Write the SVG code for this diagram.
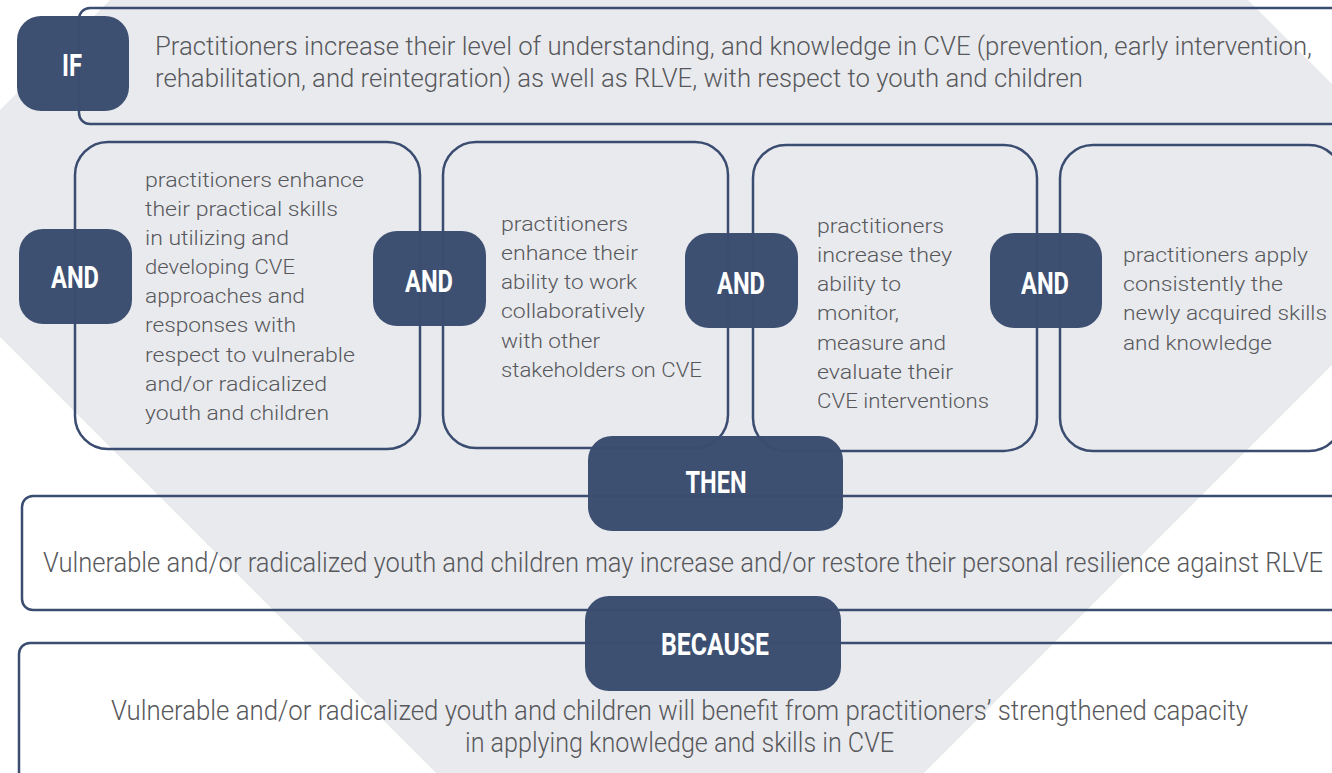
<svg xmlns="http://www.w3.org/2000/svg" width="1332" height="773" viewBox="0 0 1332 773">
  <style>
    .frame { fill: none; stroke: #3A4C70; stroke-width: 2.5; }
    .tag { fill: #3E5072; }
    .tagtxt { font-family: Roboto, "Liberation Sans", sans-serif; font-weight: 700; font-size: 31px; fill: #FFFFFF; text-anchor: middle; }
    .body { font-family: Roboto, "Open Sans", "Liberation Sans", sans-serif; font-weight: 300; fill: #57585B; }
    .small { font-size: 21px; }
    .mid { font-size: 26px; }
    .big { font-size: 27.5px; }
  </style>

  <!-- background lozenge -->
  <rect width="1332" height="773" fill="#FFFFFF"/>
  <polygon points="679,-569 1472.5,224.5 680,1017 -113.5,223.5" fill="#E9EAEE"/>

  <!-- label fills -->
  <g id="tags">
    <rect id="tag-if" class="tag" x="17" y="16" width="112" height="95" rx="24"/>
    <rect id="tag-and1" class="tag" x="19" y="229" width="113" height="95" rx="24"/>
    <rect id="tag-and2" class="tag" x="373" y="231" width="113" height="95" rx="24"/>
    <rect id="tag-and3" class="tag" x="685" y="233" width="113" height="95" rx="24"/>
    <rect id="tag-and4" class="tag" x="990" y="233" width="112" height="95" rx="24"/>
    <rect id="tag-then" class="tag" x="588" y="436" width="255" height="95" rx="24"/>
    <rect id="tag-because" class="tag" x="585" y="596" width="256" height="95" rx="24"/>
  </g>

  <!-- statement frames -->
  <g id="frames">
    <rect id="frame-if" class="frame" x="79" y="8" width="1268" height="116" rx="11"/>
    <rect id="frame-and1" class="frame" x="75" y="142" width="345" height="307" rx="33"/>
    <rect id="frame-and2" class="frame" x="443" y="142" width="285" height="306" rx="33"/>
    <rect id="frame-and3" class="frame" x="753" y="145" width="284" height="306" rx="33"/>
    <rect id="frame-and4" class="frame" x="1060" y="145" width="282" height="306" rx="33"/>
    <rect id="frame-then" class="frame" x="22" y="496" width="1330" height="114" rx="11"/>
    <rect id="frame-because" class="frame" x="19" y="643" width="1330" height="160" rx="11"/>
  </g>

  <!-- label words -->
  <g id="tag-words">
    <text class="tagtxt" x="72" y="76" textLength="20" lengthAdjust="spacingAndGlyphs">IF</text>
    <text class="tagtxt" x="75" y="288" textLength="48" lengthAdjust="spacingAndGlyphs">AND</text>
    <text class="tagtxt" x="429" y="292" textLength="48" lengthAdjust="spacingAndGlyphs">AND</text>
    <text class="tagtxt" x="741" y="294" textLength="48" lengthAdjust="spacingAndGlyphs">AND</text>
    <text class="tagtxt" x="1045" y="294" textLength="48" lengthAdjust="spacingAndGlyphs">AND</text>
    <text class="tagtxt" x="716" y="493" textLength="61" lengthAdjust="spacingAndGlyphs">THEN</text>
    <text class="tagtxt" x="715" y="655" textLength="108" lengthAdjust="spacingAndGlyphs">BECAUSE</text>
  </g>

  <!-- statement texts -->
  <g id="if-text" class="body mid">
    <text x="155" y="55" textLength="1157" lengthAdjust="spacingAndGlyphs">Practitioners increase their level of understanding, and knowledge in CVE (prevention, early intervention,</text>
    <text x="155" y="87" textLength="928" lengthAdjust="spacingAndGlyphs">rehabilitation, and reintegration) as well as RLVE, with respect to youth and children</text>
  </g>

  <g id="and1-text" class="body small">
    <text x="145" y="187" textLength="219" lengthAdjust="spacingAndGlyphs">practitioners enhance</text>
    <text x="145" y="216" textLength="193" lengthAdjust="spacingAndGlyphs">their practical skills</text>
    <text x="145" y="245" textLength="144" lengthAdjust="spacingAndGlyphs">in utilizing and</text>
    <text x="145" y="274" textLength="150" lengthAdjust="spacingAndGlyphs">developing CVE</text>
    <text x="145" y="303" textLength="160" lengthAdjust="spacingAndGlyphs">approaches and</text>
    <text x="145" y="332" textLength="151" lengthAdjust="spacingAndGlyphs">responses with</text>
    <text x="145" y="362" textLength="210" lengthAdjust="spacingAndGlyphs">respect to vulnerable</text>
    <text x="145" y="391" textLength="182" lengthAdjust="spacingAndGlyphs">and/or radicalized</text>
    <text x="145" y="420" textLength="184" lengthAdjust="spacingAndGlyphs">youth and children</text>
  </g>

  <g id="and2-text" class="body small">
    <text x="501" y="231" textLength="127" lengthAdjust="spacingAndGlyphs">practitioners</text>
    <text x="501" y="260" textLength="137" lengthAdjust="spacingAndGlyphs">enhance their</text>
    <text x="501" y="289" textLength="136" lengthAdjust="spacingAndGlyphs">ability to work</text>
    <text x="501" y="318" textLength="144" lengthAdjust="spacingAndGlyphs">collaboratively</text>
    <text x="501" y="348" textLength="99" lengthAdjust="spacingAndGlyphs">with other</text>
    <text x="501" y="377" textLength="201" lengthAdjust="spacingAndGlyphs">stakeholders on CVE</text>
  </g>

  <g id="and3-text" class="body small">
    <text x="817" y="233" textLength="127" lengthAdjust="spacingAndGlyphs">practitioners</text>
    <text x="817" y="262" textLength="135" lengthAdjust="spacingAndGlyphs">increase they</text>
    <text x="817" y="291" textLength="84" lengthAdjust="spacingAndGlyphs">ability to</text>
    <text x="817" y="320" textLength="82" lengthAdjust="spacingAndGlyphs">monitor,</text>
    <text x="817" y="350" textLength="129" lengthAdjust="spacingAndGlyphs">measure and</text>
    <text x="817" y="379" textLength="136" lengthAdjust="spacingAndGlyphs">evaluate their</text>
    <text x="817" y="408" textLength="172" lengthAdjust="spacingAndGlyphs">CVE interventions</text>
  </g>

  <g id="and4-text" class="body small">
    <text x="1123" y="262" textLength="185" lengthAdjust="spacingAndGlyphs">practitioners apply</text>
    <text x="1123" y="291" textLength="160" lengthAdjust="spacingAndGlyphs">consistently the</text>
    <text x="1123" y="320" textLength="204" lengthAdjust="spacingAndGlyphs">newly acquired skills</text>
    <text x="1123" y="350" textLength="149" lengthAdjust="spacingAndGlyphs">and knowledge</text>
  </g>

  <g id="then-text" class="body big">
    <text x="43" y="572" textLength="1280" lengthAdjust="spacingAndGlyphs">Vulnerable and/or radicalized youth and children may increase and/or restore their personal resilience against RLVE</text>
  </g>

  <g id="because-text" class="body big">
    <text x="111" y="720" textLength="1137" lengthAdjust="spacingAndGlyphs">Vulnerable and/or radicalized youth and children will benefit from practitioners’ strengthened capacity</text>
    <text x="465" y="752" textLength="429" lengthAdjust="spacingAndGlyphs">in applying knowledge and skills in CVE</text>
  </g>
</svg>
